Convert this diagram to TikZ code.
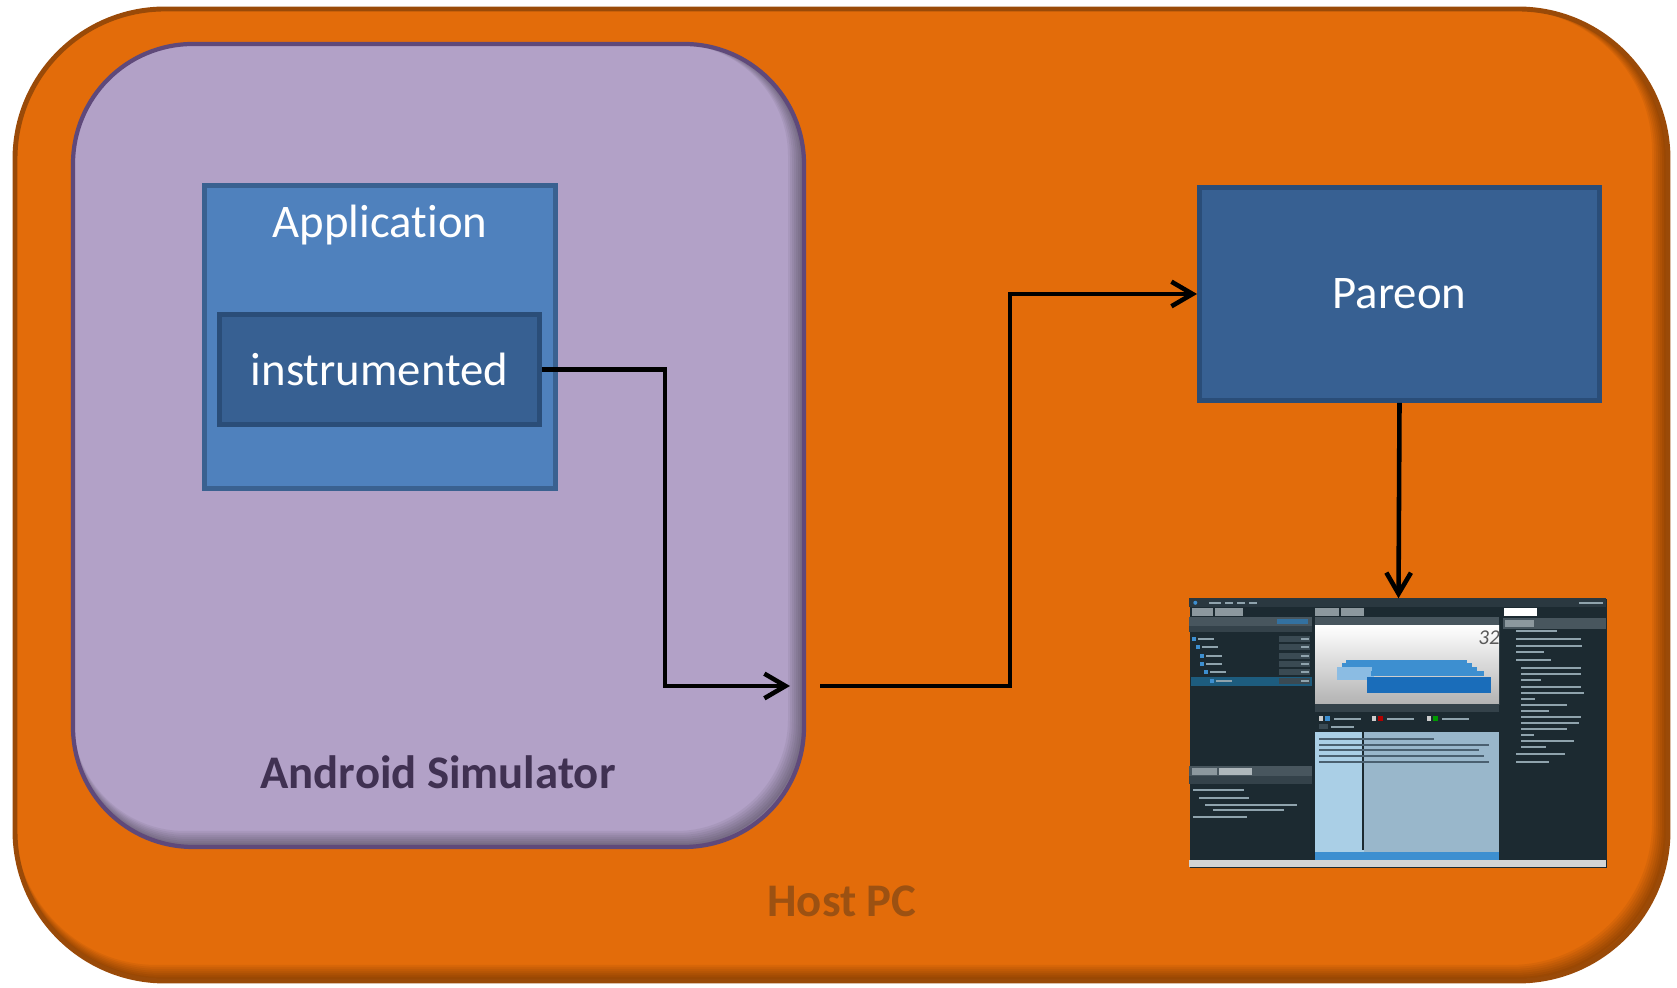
\documentclass[tikz,border=0pt]{standalone}
\usepackage{fontspec}
\setmainfont{Carlito}[Ligatures=NoCommon]
\usepackage{tikz}
\usetikzlibrary{arrows.meta, positioning, calc}
\usepackage{xcolor}

% Office-like palette
\definecolor{hostorange}{HTML}{E36C0A}
\definecolor{hostborder}{HTML}{9A4A08}
\definecolor{hosttext}{HTML}{9C5112}
\definecolor{simfill}{HTML}{B2A1C7}
\definecolor{simborder}{HTML}{5F497A}
\definecolor{simtext}{HTML}{403152}
\definecolor{appfill}{HTML}{4F81BD}
\definecolor{appborder}{HTML}{3A6190}
\definecolor{darkblue}{HTML}{376092}
\definecolor{darkborder}{HTML}{2A4D78}
% screenshot palette
\definecolor{scrbg}{HTML}{1C2A31}
\definecolor{scrtop}{HTML}{2A3840}
\definecolor{scrbar}{HTML}{48565E}
\definecolor{scrhead}{HTML}{34424A}
\definecolor{scrtab}{HTML}{8C989E}
\definecolor{scrsel}{HTML}{1D5C7E}
\definecolor{scrrow}{HTML}{3A4A53}
\definecolor{scrtxt}{HTML}{8FA3AD}
\definecolor{scrblue}{HTML}{1A6DBA}
\definecolor{scrbarlt}{HTML}{3D8FD0}
\definecolor{scrlight}{HTML}{AACFE6}
\definecolor{scrmid}{HTML}{99B7CB}
\definecolor{scrstrip}{HTML}{D2D4D5}
\definecolor{scrdark}{HTML}{4A6070}

\begin{document}
\begin{tikzpicture}[
    font=\fontsize{13.3}{16}\selectfont,
    % Node styles
    box/.style={rectangle, draw, line width=1.4pt, align=center, text=white, inner sep=0pt},
    caption/.style={anchor=base, font=\fontsize{13.3}{16}\selectfont\bfseries},
    link/.style={-{Straight Barb[length=6pt, width=7pt]}, line width=1.3pt, black},
    scrline/.style={scrtxt, line width=0.6pt},
    darkline/.style={scrdark, line width=0.6pt},
]
\useasboundingbox (0,0) rectangle (16.77,9.88);

% ============================================================================
% HOST PC
% ============================================================================
\fill[hostorange, rounded corners=1.5cm] (0.15,0.07) rectangle (16.68,9.79);
\begin{scope}
    \clip[rounded corners=1.5cm] (0.15,0.07) rectangle (16.68,9.79);
    \foreach \w in {0.02,0.04,...,0.16} {
        \draw[black, opacity=0.05, line width=\w cm, rounded corners=1.5cm, shift={(-\w/2,\w/2)}] (0.15,0.07) rectangle (16.68,9.79);
    }
\end{scope}
\draw[hostborder, line width=1.4pt, rounded corners=1.5cm] (0.15,0.07) rectangle (16.68,9.79);
\node[caption, text=hosttext] (hostlabel) at (8.42,0.71) {Host PC};

% ============================================================================
% ANDROID SIMULATOR
% ============================================================================
\fill[simfill, rounded corners=1.2cm] (0.73,1.41) rectangle (8.04,9.44);
\begin{scope}
    \clip[rounded corners=1.2cm] (0.73,1.41) rectangle (8.04,9.44);
    \foreach \w in {0.02,0.04,...,0.16} {
        \draw[black, opacity=0.05, line width=\w cm, rounded corners=1.2cm, shift={(-\w/2,\w/2)}] (0.73,1.41) rectangle (8.04,9.44);
    }
\end{scope}
\draw[simborder, line width=1.2pt, rounded corners=1.2cm] (0.73,1.41) rectangle (8.04,9.44);
\node[caption, text=simtext] (simlabel) at (4.38,1.99) {Android Simulator};

% Application with instrumented part
\node[box, fill=appfill, draw=appborder, minimum width=3.51cm, minimum height=3.03cm] (app) at (3.80,6.51) {};
\node[anchor=base, text=white] (apptitle) at (3.80,7.50) {Application};
\node[box, fill=darkblue, draw=darkborder, minimum width=3.20cm, minimum height=1.10cm] (instr) at (3.795,6.185) {instrumented};

% ============================================================================
% PAREON
% ============================================================================
\node[box, fill=darkblue, draw=darkborder, minimum width=4.0cm, minimum height=2.13cm] (pareon) at (13.995,6.94) {Pareon};

% Screenshot of the tool
\node[rectangle, fill=scrbg, minimum width=4.17cm, minimum height=2.69cm, inner sep=0pt] (screen) at (13.985,2.545) {};
\begin{scope}[shift={(screen.north west)}, x=0.01cm, y=-0.01cm]
    % menu bar
    \fill[scrtop] (0,0) rectangle (417,9);
    \fill[scrbarlt] (6,4.5) circle (2);
    \foreach \xa/\xb in {20/32, 36/44, 48/56, 60/68, 390/414} {
        \draw[scrline] (\xa,4.5) -- (\xb,4.5);
    }
    % left panel: profile tree
    \fill[scrtab] (3,10) rectangle (24,18);
    \fill[scrtab] (26,10) rectangle (54,18);
    \fill[scrbar] (0,19) rectangle (123,28);
    \fill[scrbarlt!70!scrbg] (88,21) rectangle (119,26);
    \fill[scrhead] (0,28) rectangle (123,34);
    \fill[scrsel] (2,79) rectangle (123,88);
    \foreach \y/\ind in {41/3, 49/7, 58/11, 66/11, 74/15, 83/21} {
        \fill[scrrow] (90,\y-3) rectangle (121,\y+3);
        \fill[scrbarlt] (\ind,\y-2) rectangle (\ind+4,\y+2);
        \draw[scrline] (\ind+6,\y) -- (\ind+22,\y);
        \draw[scrline] (112,\y) -- (120,\y);
    }
    % left panel: my changes
    \fill[scrbar] (0,168) rectangle (123,178);
    \fill[scrtab] (3,170) rectangle (28,177);
    \fill[scrtab!70!white] (30,170) rectangle (63,177);
    \fill[scrhead] (0,178) rectangle (123,186);
    \foreach \xa/\xb/\y in {4/55/192, 10/60/200, 16/108/207, 24/95/212, 4/58/219} {
        \draw[scrline] (\xa,\y) -- (\xb,\y);
    }
    % center panel: 3D profile
    \fill[scrtab] (126,10) rectangle (150,18);
    \fill[scrtab] (152,10) rectangle (175,18);
    \fill[scrbar] (126,19) rectangle (310,27);
    \shade[top color=white, bottom color=black!30] (126,27) rectangle (310,106);
    \fill[scrbarlt!60!white] (148,69) rectangle (185,82);
    \foreach \xa/\ya/\xb/\yb in {157/62/278/65, 153/65/283/69, 183/69/288/73, 182/73/295/78} {
        \fill[scrbarlt] (\xa,\ya) rectangle (\xb,\yb);
    }
    \fill[scrblue] (178,79) rectangle (302,95);
    \node[font=\fontsize{6}{6}\selectfont\itshape, text=black!65] (speedup) at (300,39) {32};
    \fill[scrhead] (126,106) rectangle (310,114);
    \foreach \x/\c in {137/scrbarlt, 190/red!70!black, 245/green!60!black} {
        \fill[white!80!black] (\x-7,118) rectangle (\x-3,123);
        \fill[\c] (\x-1,118) rectangle (\x+4,123);
        \draw[scrline] (\x+8,120.5) -- (\x+35,120.5);
    }
    \fill[scrrow] (130,126) rectangle (139,131);
    \draw[scrline] (142,128.5) -- (165,128.5);
    % center panel: dependencies view
    \fill[scrlight] (126,134) rectangle (175,254);
    \fill[scrmid] (175,134) rectangle (310,254);
    \draw[scrbg, line width=0.5pt] (174,134) -- (174,252);
    \foreach \xb/\y in {245/141, 300/147, 290/152, 295/158, 300/164} {
        \draw[darkline] (130,\y) -- (\xb,\y);
    }
    \fill[scrbarlt] (126,254) rectangle (310,262);
    % right panel: cheat sheets
    \fill[white] (315,10) rectangle (348,18);
    \fill[scrbar] (314,20) rectangle (417,31);
    \fill[scrtab] (316,22) rectangle (345,29);
    \foreach \xa/\xb/\y in {327/368/33, 327/392/41, 327/393/48, 327/355/54, 327/362/62,
                            332/392/70, 332/392/76, 332/352/82, 332/392/89, 332/395/95,
                            332/346/101, 332/378/107, 332/360/113, 332/392/119, 332/390/125,
                            332/378/131, 332/345/137, 332/385/143, 332/357/149, 327/376/156, 327/360/164} {
        \draw[scrline] (\xa,\y) -- (\xb,\y);
    }
    % status strip
    \fill[scrstrip] (0,262) rectangle (417,269);
\end{scope}

% ============================================================================
% CONNECTIONS
% ============================================================================
\coordinate (simout) at (7.90,3.02);
\coordinate (hostin) at (8.20,3.02);
\draw[link] (instr.east) -- ++(1.23,0) |- (simout);
\draw[link] (hostin) -- ++(1.90,0) |- (pareon.west);
\draw[link] (pareon.south) -- (screen.north);

\end{tikzpicture}
\end{document}
